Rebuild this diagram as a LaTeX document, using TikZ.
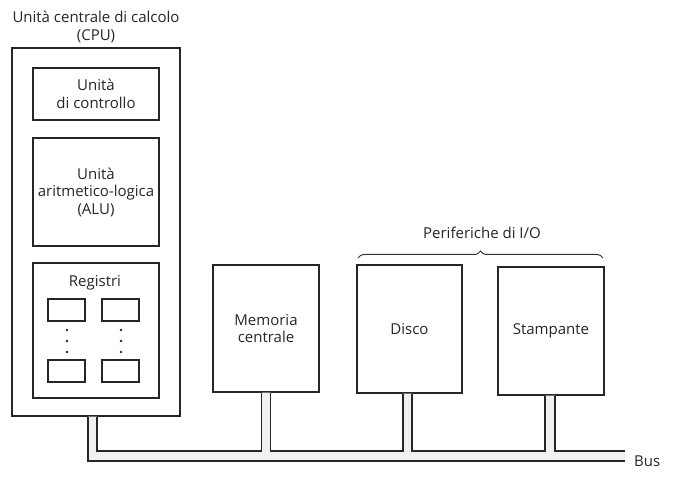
\documentclass[tikz,border=0pt]{standalone}
\usepackage{fontspec}
\setmainfont{Open Sans}
\usetikzlibrary{calc,decorations.pathreplacing}
\begin{document}
\begin{tikzpicture}[x=1pt,y=-1pt,
  box/.style={draw=black!85, line width=1.3pt, inner sep=0pt, align=center},
  reg/.style={draw=black!85, line width=1.1pt, minimum width=37pt, minimum height=22pt, inner sep=0pt},
  lbl/.style={font=\fontsize{15}{17.5}\selectfont, text=black!85, align=center, inner sep=0pt},
  pipe/.style={draw=black!85, line width=1.2pt},
  dot/.style={circle, fill=black!85, minimum size=2.6pt, inner sep=0pt}
]
\useasboundingbox (0,0) rectangle (675,481);
% CPU
\node[box, minimum width=168pt, minimum height=368pt] (cpu) at (96,232) {};
\node[lbl] (cputitle) at (96,27) {Unità centrale di calcolo\\(CPU)};
\node[box, lbl, draw=black!85, minimum width=126pt, minimum height=52pt] (ctrl) at (96,94) {Unità\\di controllo};
\node[box, lbl, draw=black!85, minimum width=126pt, minimum height=108pt] (alu) at (96,192) {Unità\\aritmetico-logica\\(ALU)};
\node[box, minimum width=126pt, minimum height=135pt] (regs) at (96,330.5) {};
\node[lbl] (regtitle) at (95,283) {Registri};
\node[reg] (r1) at (66.5,310) {};
\node[reg] (r2) at (120.5,310) {};
\node[reg] (r3) at (66.5,371) {};
\node[reg] (r4) at (120.5,371) {};
\foreach \y [count=\i] in {330,341,352} {
  \node[dot] (dl\i) at (67,\y) {};
  \node[dot] (dr\i) at (121,\y) {};
}
% Memory and peripherals
\node[box, lbl, draw=black!85, minimum width=106pt, minimum height=127pt] (mem) at (266,328.5) {Memoria\\centrale};
\node[box, lbl, draw=black!85, minimum width=105pt, minimum height=128pt] (disk) at (409.5,329) {Disco};
\node[box, lbl, draw=black!85, minimum width=106pt, minimum height=128pt] (print) at (551,331) {Stampante};
\coordinate (bl) at (358,258);
\coordinate (br) at (603,258);
\draw[decorate, decoration={brace, amplitude=7pt}, line width=1pt, black!80] (bl) -- (br);
\node[lbl] (io) at (482,233) {Periferiche di I/O};
% Bus coordinates
\coordinate (bt) at (0,451);
\coordinate (bb) at (0,461);
\coordinate (c1) at ($(cpu.south)+(-8,0)$);
\coordinate (c2) at ($(cpu.south)+(1,0)$);
\coordinate (m1) at ($(mem.south)+(-4.5,0)$);
\coordinate (m2) at ($(mem.south)+(4.5,0)$);
\coordinate (d1) at ($(disk.south)+(-6.5,0)$);
\coordinate (d2) at ($(disk.south)+(2.5,0)$);
\coordinate (p1) at ($(print.south)+(-6,0)$);
\coordinate (p2) at ($(print.south)+(4,0)$);
\coordinate (et) at (625,451);
\coordinate (eb) at (625,461);
\node[lbl, anchor=west] (bus) at (634,461) {Bus};
\fill[black!6]
  (c1) -- (c2) -- (c2 |- bt) -- (m1 |- bt) -- (m1) -- (m2) -- (m2 |- bt)
  -- (d1 |- bt) -- (d1) -- (d2) -- (d2 |- bt)
  -- (p1 |- bt) -- (p1) -- (p2) -- (p2 |- bt)
  -- (et) -- (eb) -- (c1 |- bb) -- cycle;
\draw[pipe] (c1) |- (eb);
\draw[pipe] (c2) |- (m1 |- bt) -- (m1);
\draw[pipe] (m2) |- (d1 |- bt) -- (d1);
\draw[pipe] (d2) |- (p1 |- bt) -- (p1);
\draw[pipe] (p2) |- (et);
\end{tikzpicture}
\end{document}
